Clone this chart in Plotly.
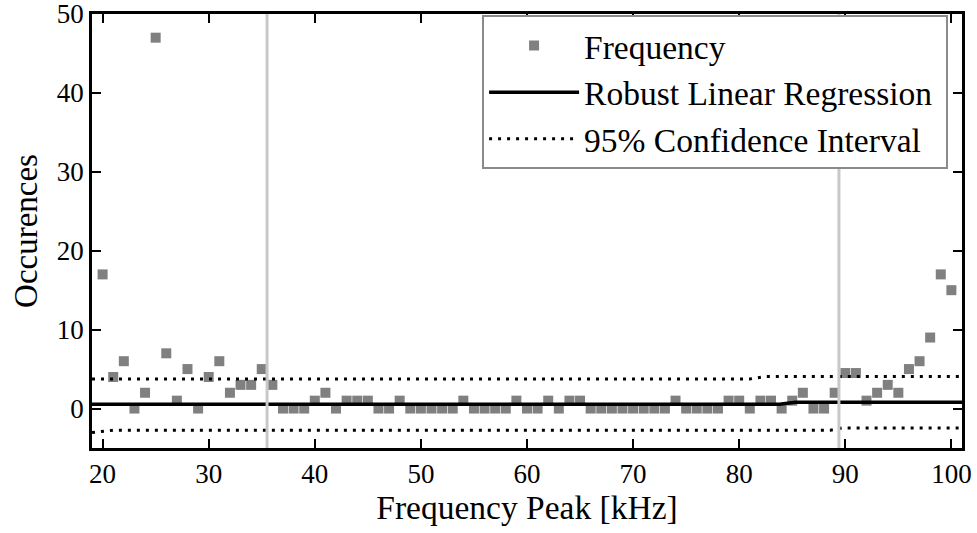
import plotly.graph_objects as go

# Data
freq_khz = list(range(20, 101))
occurrences = [17, 4, 6, 0, 2, 47, 7, 1, 5, 0,
               4, 6, 2, 3, 3, 5, 3, 0, 0, 0,
               1, 2, 0, 1, 1, 1, 0, 0, 1, 0,
               0, 0, 0, 0, 1, 0, 0, 0, 0, 1,
               0, 0, 1, 0, 1, 1, 0, 0, 0, 0,
               0, 0, 0, 0, 1, 0, 0, 0, 0, 1,
               1, 0, 1, 1, 0, 1, 2, 0, 0, 2,
               4.5, 4.5, 1, 2, 3, 2, 5, 6, 9, 17,
               15]

fit_x = [19, 83.8, 85.3, 101]
fit_y = [0.55, 0.55, 0.8, 0.8]
ci_upper_x = [19, 81.0, 82.5, 101]
ci_upper_y = [3.75, 3.75, 4.05, 4.05]
ci_lower_x = [19, 21, 88.6, 89.7, 101]
ci_lower_y = [-3.05, -2.75, -2.75, -2.45, -2.45]

bound_x = [35.5, 89.4]

x_ticks = [20, 30, 40, 50, 60, 70, 80, 90, 100]
y_ticks = [0, 10, 20, 30, 40, 50]

legend_names = ["Frequency", "Robust Linear Regression", "95% Confidence Interval"]

FONT = "Liberation Serif, Times New Roman, Times, serif"
PAD = "\u00a0"

fig = go.Figure()
fig.add_trace(go.Scatter(x=freq_khz, y=occurrences, mode="markers", name=legend_names[0] + PAD,
                         marker=dict(symbol="square", size=10, color="#808080")))
fig.add_trace(go.Scatter(x=fit_x, y=fit_y, mode="lines", name=legend_names[1] + PAD,
                         line=dict(color="black", width=3.5)))
fig.add_trace(go.Scatter(x=ci_upper_x, y=ci_upper_y, mode="lines", name=legend_names[2] + PAD,
                         legendgroup="ci", line=dict(color="black", width=3, dash="3px,6px")))
fig.add_trace(go.Scatter(x=ci_lower_x, y=ci_lower_y, mode="lines", name=legend_names[2],
                         legendgroup="ci", showlegend=False,
                         line=dict(color="black", width=3, dash="3px,6px")))

for bx in bound_x:
    fig.add_shape(type="line", x0=bx, x1=bx, y0=0, y1=1, xref="x", yref="paper",
                  line=dict(color="#c8c8c8", width=3), layer="above")

axis_common = dict(showline=True, linecolor="black", linewidth=2.5, mirror="ticks",
                   ticks="inside", ticklen=9, tickwidth=2, tickcolor="black",
                   showgrid=False, zeroline=False, automargin=False,
                   ticklabeloverflow="allow",
                   tickfont=dict(family=FONT, size=27, color="black"))

fig.update_xaxes(range=[19, 101], tickvals=x_ticks,
                 title=dict(text="Frequency Peak [kHz]", font=dict(family=FONT, size=33.5, color="black"),
                            standoff=5),
                 **axis_common)
fig.update_yaxes(range=[-5, 50], tickvals=y_ticks,
                 title=dict(text="Occurences", font=dict(family=FONT, size=33, color="black"),
                            standoff=10),
                 **axis_common)

fig.update_layout(
    width=977, height=533,
    margin=dict(l=92, r=15, t=14, b=85),
    plot_bgcolor="white", paper_bgcolor="white",
    font=dict(family=FONT, color="black"),
    legend=dict(x=0.984, xanchor="right", y=0.997, yanchor="top",
                bgcolor="white", bordercolor="#8a8a8a", borderwidth=2,
                font=dict(family=FONT, size=33.5, color="black"),
                itemwidth=90, tracegroupgap=0),
)

fig.write_html("out.html")
